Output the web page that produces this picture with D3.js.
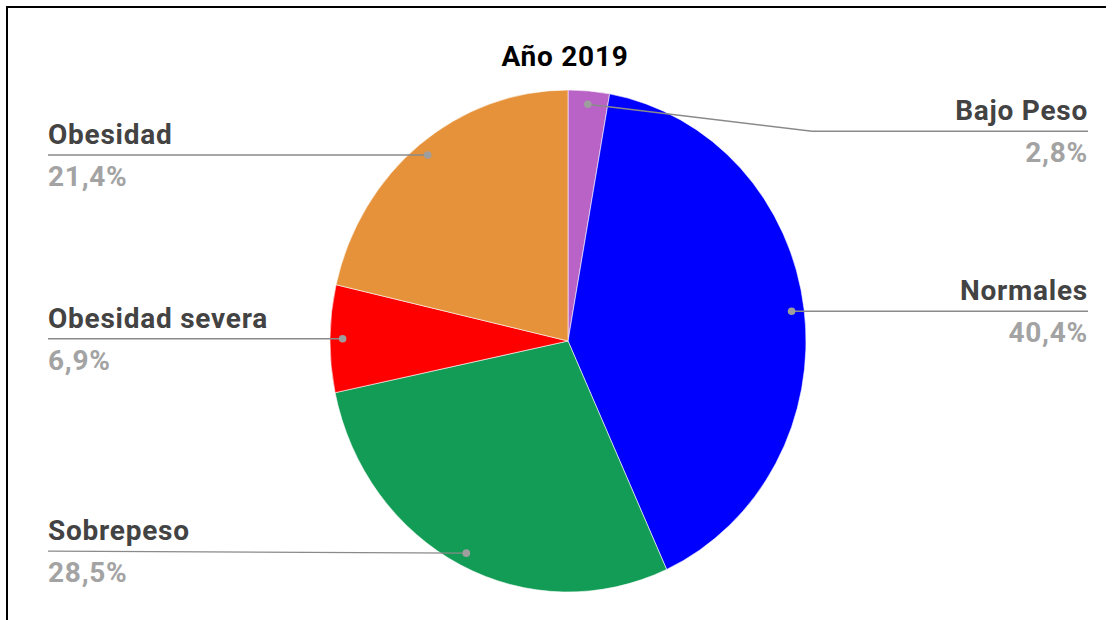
<!DOCTYPE html>
<html><head><meta charset="utf-8">
<script src="https://cdn.jsdelivr.net/npm/d3@7"></script>
<style>
html,body{margin:0;padding:0;background:#fff;}
svg{display:block;font-family:Roboto,"Noto Sans",sans-serif;}
</style></head>
<body>
<svg id="chart" width="1112" height="620"></svg>
<script>
// Data
const title = "Año 2019";
const categories = ["Bajo Peso", "Normales", "Sobrepeso", "Obesidad severa", "Obesidad"];
const values = [2.8, 40.4, 28.5, 6.9, 21.4];
const valueLabels = ["2,8%", "40,4%", "28,5%", "6,9%", "21,4%"];
const colors = ["#b963c7", "#0000ff", "#129c55", "#ff0000", "#e6923a"];

// Layout (not data)
const W = 1112, H = 620;
const cx = 568, cy = 341, R = 251, sx = 238 / 251;
const labelSide = ["right", "right", "left", "left", "left"];
const labelLineOffset = [27, 0, -2, 0, 0]; // vertical shift of label line vs dot
const leftX = 48, rightX = 1088;

const svg = d3.select("#chart");

// frame
svg.append("line").attr("x1", 6).attr("x2", 1106).attr("y1", 7).attr("y2", 7)
  .attr("stroke", "#000").attr("stroke-width", 2);
svg.append("line").attr("x1", 7).attr("x2", 7).attr("y1", 6).attr("y2", H)
  .attr("stroke", "#000").attr("stroke-width", 2);

svg.append("text").attr("x", 565).attr("y", 66).attr("text-anchor", "middle")
  .attr("font-size", 28).attr("font-weight", 700).attr("letter-spacing", 0.75)
  .attr("fill", "#000").text(title);

const pie = d3.pie().sort(null).value(d => d)(values);
const arc = d3.arc().innerRadius(0).outerRadius(R);
const dotArc = d3.arc().innerRadius(R * 0.947).outerRadius(R * 0.947);

const g = svg.append("g").attr("transform", `translate(${cx},${cy}) scale(${sx},1)`);
g.selectAll("path").data(pie).join("path")
  .attr("d", arc).attr("fill", (d, i) => colors[i])
  .attr("stroke", "#fff").attr("stroke-width", 0.6);

const lab = svg.append("g");
pie.forEach((d, i) => {
  const c = dotArc.centroid(d);
  const px = cx + c[0] * sx, py = cy + c[1];
  const ly = py + labelLineOffset[i];
  const right = labelSide[i] === "right";
  const endX = right ? rightX : leftX;
  let pts;
  if (i === 0) pts = [[px, py], [812, ly], [endX, ly]];
  else pts = [[px, py], [endX, ly]];
  lab.append("path").attr("d", d3.line()(pts)).attr("fill", "none")
    .attr("stroke", "#8a8a8a").attr("stroke-width", 1.4);
  lab.append("circle").attr("cx", px).attr("cy", py).attr("r", 3.8).attr("fill", "#9e9e9e");
  lab.append("text").attr("x", endX).attr("y", ly - 11)
    .attr("text-anchor", right ? "end" : "start")
    .attr("font-size", 28).attr("font-weight", 700).attr("letter-spacing", 0.75)
    .attr("fill", "#434343")
    .text(categories[i]);
  lab.append("text").attr("x", endX).attr("y", ly + 31)
    .attr("text-anchor", right ? "end" : "start")
    .attr("font-size", 28).attr("font-weight", 700).attr("letter-spacing", 0.75)
    .attr("fill", "#a3a3a3")
    .text(valueLabels[i]);
});
</script>
</body></html>
